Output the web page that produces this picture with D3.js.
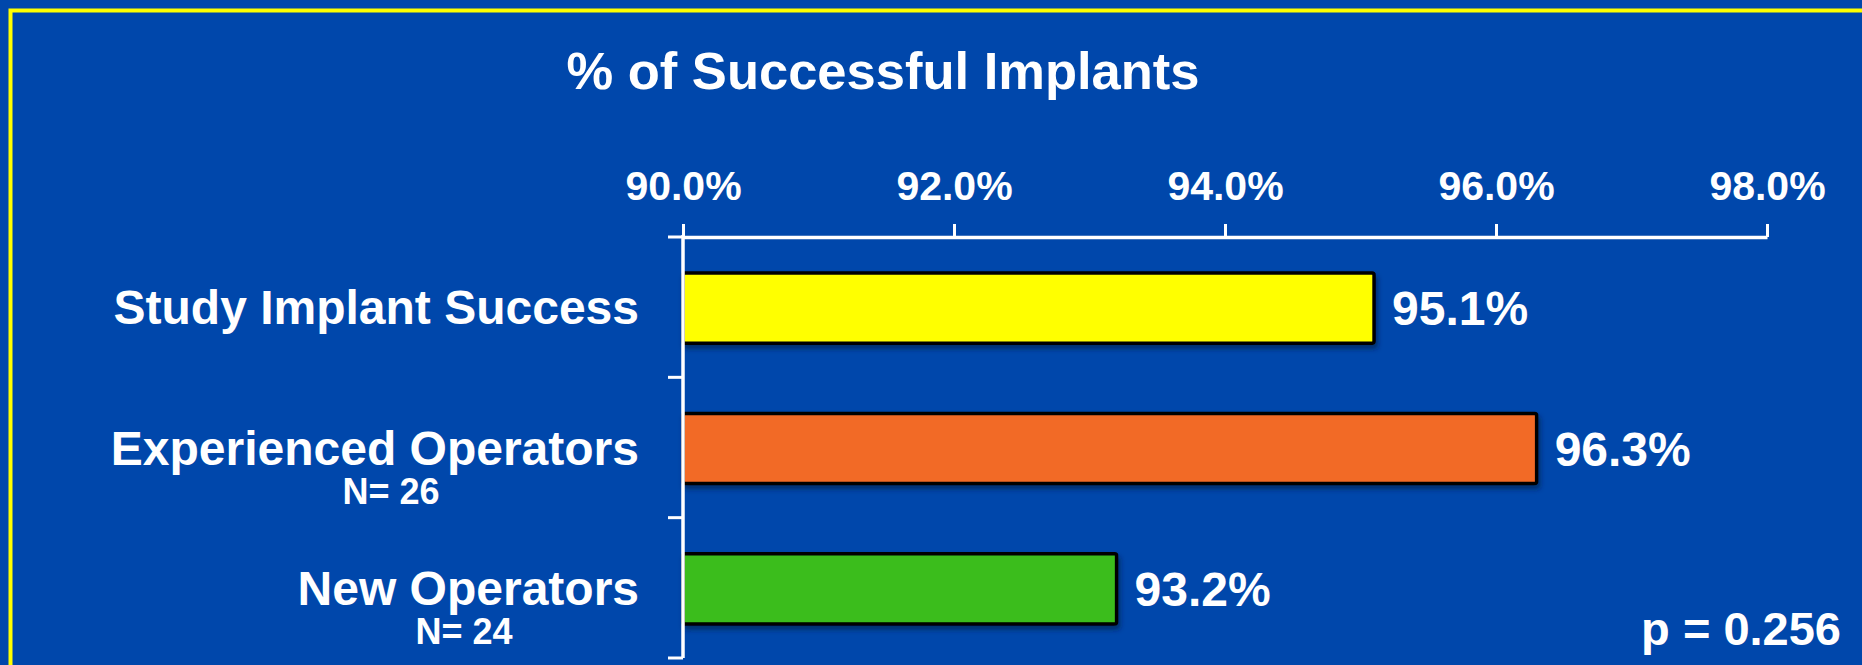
<!DOCTYPE html>
<html>
<head>
<meta charset="utf-8">
<script src="https://cdn.jsdelivr.net/npm/d3@7"></script>
<style>
  html, body { margin: 0; padding: 0; background: #0047AB; overflow: hidden; }
  svg { display: block; font-family: "Liberation Sans", Arial, Helvetica, sans-serif; font-weight: bold; }
</style>
</head>
<body>
<svg id="chart" width="1862" height="665"></svg>
<script>
const title = "% of Successful Implants";
const categories = ["Study Implant Success", "Experienced Operators", "New Operators"];
const subLabels = ["", "N= 26", "N= 24"];
const values = [95.1, 96.3, 93.2];
const barColors = ["#FFFF00", "#F26A28", "#3BBD1A"];
const tickValues = [90, 92, 94, 96, 98];
const pValueText = "p = 0.256";

const svg = d3.select("#chart");
const W = 1862, H = 665;

svg.append("rect").attr("width", W).attr("height", H).attr("fill", "#0047AB");

// frame border (extends past right/bottom edges)
svg.append("rect")
  .attr("x", 10.5).attr("y", 10.5)
  .attr("width", W + 20).attr("height", H + 20)
  .attr("fill", "none").attr("stroke", "#FFFF00").attr("stroke-width", 4);

const defs = svg.append("defs");
const f = defs.append("filter").attr("id", "shadow").attr("x", "-5%").attr("y", "-20%").attr("width", "110%").attr("height", "150%");
f.append("feDropShadow").attr("dx", 2).attr("dy", 4).attr("stdDeviation", 2.5)
  .attr("flood-color", "#001a40").attr("flood-opacity", 0.6);

const x = d3.scaleLinear().domain([90, 98]).range([683, 1767]);
const y = d3.scaleBand().domain(categories).range([237, 658]).padding(0);
const barH = y.bandwidth() * 0.5;

// title
svg.append("text")
  .attr("x", 883).attr("y", 89)
  .attr("text-anchor", "middle")
  .attr("fill", "#fff").attr("font-size", 52.5)
  .text(title);

// bars
svg.append("g").selectAll("rect")
  .data(categories)
  .join("rect")
  .attr("x", x(90))
  .attr("y", d => y(d) + (y.bandwidth() - barH) / 2 + 1)
  .attr("width", (d, i) => x(values[i]) - x(90))
  .attr("height", barH)
  .attr("rx", 2)
  .attr("fill", (d, i) => barColors[i])
  .attr("stroke", "#000").attr("stroke-width", 3.5)
  .attr("filter", "url(#shadow)");

// value labels
svg.append("g").selectAll("text")
  .data(categories)
  .join("text")
  .attr("x", (d, i) => x(values[i]) + 18)
  .attr("y", d => y(d) + y.bandwidth() / 2 + 18)
  .attr("fill", "#fff").attr("font-size", 48)
  .text((d, i) => values[i].toFixed(1) + "%");

// top axis
const axis = d3.axisTop(x)
  .tickValues(tickValues)
  .tickFormat(d => d.toFixed(1) + "%")
  .tickSize(13).tickSizeOuter(0).tickPadding(24);
const ag = svg.append("g").attr("transform", "translate(0,237)").call(axis);
ag.select(".domain").attr("stroke", "#fff").attr("stroke-width", 3.5);
ag.selectAll(".tick line").attr("stroke", "#fff").attr("stroke-width", 3);
ag.selectAll(".tick text")
  .attr("fill", "#fff").attr("font-size", 41)
  .attr("font-family", "Liberation Sans, Arial, sans-serif").attr("font-weight", "bold");

// left axis (category separators)
const yl = svg.append("g");
yl.append("line")
  .attr("x1", x(90)).attr("x2", x(90))
  .attr("y1", y.range()[0] - 2).attr("y2", y.range()[1])
  .attr("stroke", "#fff").attr("stroke-width", 3.5);
const bounds = categories.map(c => y(c)).concat([y.range()[1]]);
yl.selectAll(".sep").data(bounds).join("line")
  .attr("class", "sep")
  .attr("x1", x(90) - 15).attr("x2", x(90))
  .attr("y1", d => d).attr("y2", d => d)
  .attr("stroke", "#fff").attr("stroke-width", 3);

// category labels
svg.append("g").selectAll("text")
  .data(categories)
  .join("text")
  .attr("x", 639)
  .attr("y", d => y(d) + y.bandwidth() / 2 + 17)
  .attr("text-anchor", "end")
  .attr("fill", "#fff").attr("font-size", 48)
  .text(d => d);

// N sub-labels
const subX = [0, 391, 464];
svg.append("g").selectAll("text")
  .data(categories)
  .join("text")
  .attr("x", (d, i) => subX[i])
  .attr("y", d => y(d) + y.bandwidth() / 2 + 56)
  .attr("text-anchor", "middle")
  .attr("fill", "#fff").attr("font-size", 36)
  .text((d, i) => subLabels[i]);

// p value
svg.append("text")
  .attr("x", 1841).attr("y", 645)
  .attr("text-anchor", "end")
  .attr("fill", "#fff").attr("font-size", 47)
  .text(pValueText);
</script>
</body>
</html>
